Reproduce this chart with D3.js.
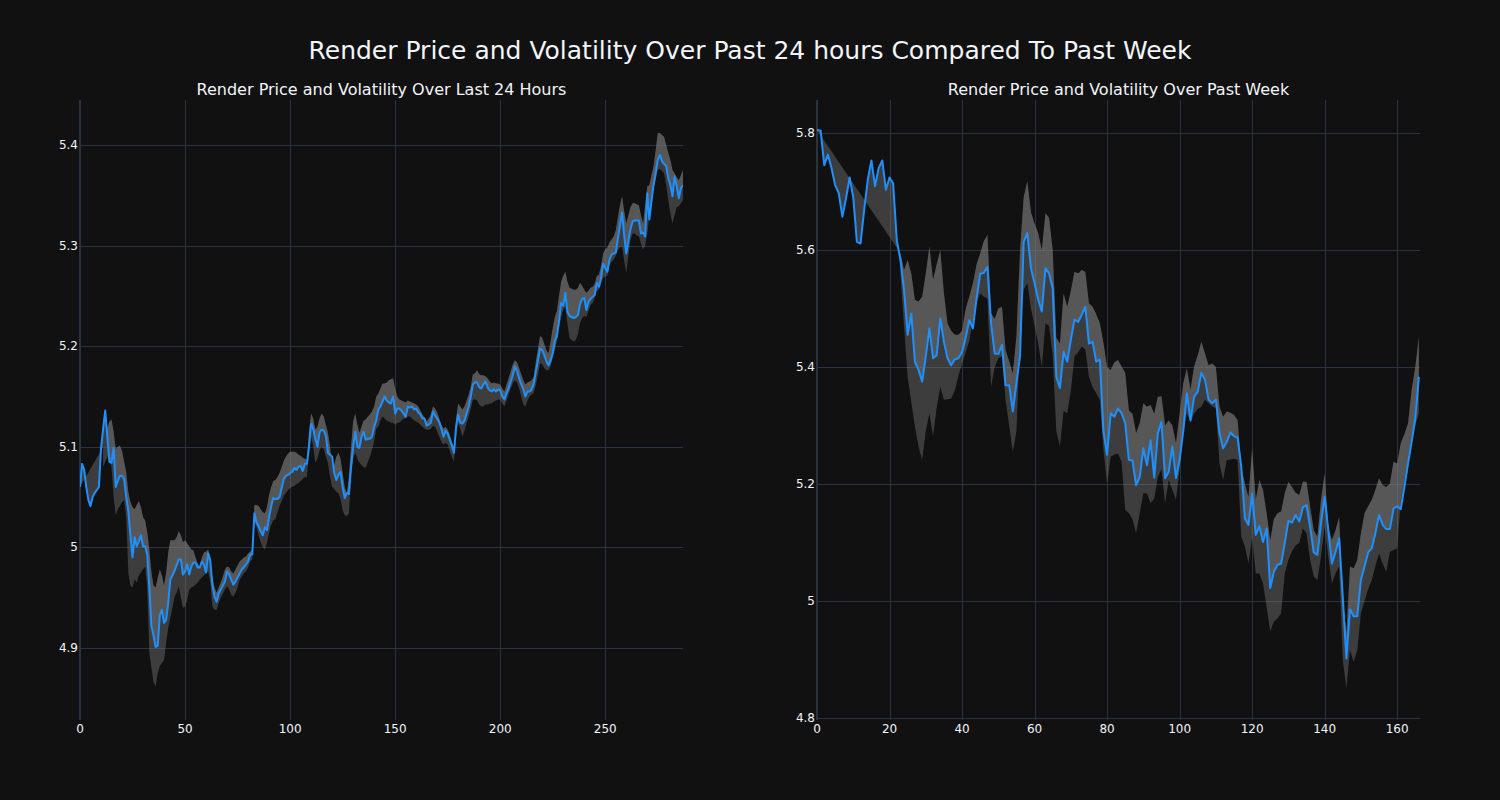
<!DOCTYPE html>
<html>
<head>
<meta charset="utf-8">
<script src="https://cdn.jsdelivr.net/npm/d3@7"></script>
<style>
html,body{margin:0;padding:0;background:#111111;}
svg{display:block;}
</style>
</head>
<body>
<svg id="chart" width="1500" height="800"></svg>
<script>
// ---------------- DATA ----------------
const mainTitle = "Render Price and Volatility Over Past 24 hours Compared To Past Week";
const dayTitle = "Render Price and Volatility Over Last 24 Hours";
const weekTitle = "Render Price and Volatility Over Past Week";

// Last 24 hours (5-minute steps), index 0..287
const dayPrice = [
5.060,5.083,5.077,5.060,5.047,5.041,5.050,5.054,5.057,5.060,
5.098,5.118,5.136,5.110,5.085,5.084,5.099,5.060,5.066,5.071,
5.071,5.068,5.050,5.036,5.012,4.990,5.010,5.001,5.006,5.012,
5.001,5.001,4.993,4.960,4.922,4.912,4.901,4.902,4.933,4.938,
4.925,4.928,4.945,4.968,4.972,4.977,4.982,4.988,4.988,4.973,
4.976,4.983,4.973,4.981,4.985,4.985,4.980,4.980,4.986,4.983,
4.975,4.994,4.987,4.963,4.951,4.946,4.954,4.958,4.962,4.966,
4.976,4.973,4.968,4.963,4.966,4.970,4.974,4.978,4.980,4.983,
4.986,4.993,4.993,5.034,5.025,5.021,5.016,5.012,5.020,5.017,
5.030,5.041,5.049,5.048,5.048,5.050,5.059,5.068,5.071,5.072,
5.074,5.075,5.079,5.077,5.080,5.081,5.076,5.083,5.083,5.100,
5.123,5.118,5.108,5.100,5.114,5.117,5.116,5.111,5.094,5.092,
5.090,5.074,5.067,5.072,5.075,5.060,5.049,5.054,5.053,5.080,
5.100,5.115,5.100,5.099,5.110,5.115,5.107,5.108,5.108,5.110,
5.120,5.126,5.137,5.140,5.145,5.150,5.146,5.144,5.143,5.150,
5.133,5.138,5.138,5.136,5.133,5.130,5.140,5.139,5.140,5.137,
5.138,5.134,5.132,5.128,5.128,5.121,5.122,5.124,5.135,5.131,
5.128,5.124,5.118,5.110,5.116,5.113,5.107,5.101,5.094,5.120,
5.132,5.124,5.123,5.126,5.133,5.140,5.150,5.162,5.164,5.164,
5.159,5.158,5.162,5.165,5.159,5.156,5.155,5.157,5.155,5.157,
5.156,5.150,5.147,5.153,5.158,5.165,5.171,5.180,5.175,5.168,
5.162,5.157,5.150,5.155,5.155,5.157,5.163,5.175,5.186,5.198,
5.196,5.191,5.185,5.181,5.186,5.193,5.205,5.210,5.225,5.243,
5.240,5.253,5.234,5.230,5.229,5.228,5.229,5.231,5.242,5.247,
5.248,5.236,5.244,5.247,5.249,5.251,5.263,5.259,5.268,5.282,
5.278,5.274,5.286,5.291,5.292,5.293,5.307,5.320,5.333,5.310,
5.292,5.305,5.316,5.324,5.325,5.325,5.325,5.312,5.313,5.309,
5.352,5.326,5.344,5.360,5.372,5.385,5.390,5.384,5.381,5.379,
5.367,5.360,5.349,5.369,5.359,5.347,5.357,5.360
];
const dayBandStart = 11;
// upper / lower volatility band from index 11
const dayUpper = [
5.100,5.110,5.118,5.125,5.127,5.115,5.098,5.100,5.101,
5.096,5.085,5.075,5.055,5.045,5.040,5.038,5.042,5.046,5.040,
5.030,5.027,5.015,4.998,4.975,4.962,4.960,4.970,4.978,4.972,
4.962,4.975,4.995,5.007,5.007,5.007,5.010,5.016,5.012,5.005,
5.007,5.004,5.001,4.998,4.997,4.990,4.984,4.981,4.990,4.995,
4.996,4.998,4.990,4.970,4.960,4.955,4.960,4.965,4.971,4.978,
4.981,4.980,4.976,4.974,4.978,4.982,4.986,4.988,4.990,4.991,
4.994,4.996,4.998,5.042,5.042,5.041,5.038,5.035,5.034,5.040,
5.052,5.060,5.066,5.067,5.070,5.074,5.080,5.086,5.090,5.093,
5.095,5.095,5.095,5.094,5.092,5.091,5.089,5.088,5.087,5.115,
5.133,5.128,5.117,5.120,5.128,5.133,5.130,5.122,5.114,5.100,
5.080,5.082,5.090,5.094,5.088,5.074,5.060,5.054,5.070,5.100,
5.125,5.133,5.122,5.114,5.120,5.126,5.127,5.130,5.132,5.135,
5.140,5.150,5.153,5.158,5.163,5.163,5.164,5.166,5.167,5.168,
5.158,5.150,5.147,5.146,5.145,5.144,5.146,5.145,5.144,5.143,
5.142,5.140,5.136,5.132,5.129,5.125,5.128,5.132,5.140,5.138,
5.134,5.128,5.122,5.118,5.120,5.117,5.112,5.105,5.100,5.128,
5.143,5.140,5.137,5.140,5.146,5.152,5.160,5.172,5.173,5.176,
5.172,5.171,5.171,5.170,5.168,5.165,5.163,5.164,5.163,5.163,
5.162,5.158,5.155,5.162,5.168,5.175,5.182,5.186,5.184,5.178,
5.172,5.166,5.162,5.164,5.165,5.166,5.170,5.185,5.198,5.210,
5.208,5.202,5.196,5.193,5.205,5.218,5.229,5.235,5.250,5.264,
5.270,5.274,5.264,5.258,5.257,5.256,5.256,5.258,5.263,5.260,
5.256,5.253,5.255,5.258,5.259,5.262,5.270,5.271,5.280,5.292,
5.296,5.298,5.303,5.306,5.309,5.315,5.328,5.340,5.349,5.334,
5.322,5.330,5.338,5.342,5.342,5.341,5.340,5.330,5.322,5.340,
5.359,5.360,5.370,5.379,5.395,5.412,5.412,5.410,5.408,5.400,
5.392,5.385,5.375,5.372,5.368,5.365,5.370,5.375
];
const dayLower = [
5.080,5.085,5.090,5.088,5.080,5.050,5.032,5.038,5.041,
5.045,5.047,5.030,4.975,4.962,4.960,4.968,4.965,4.972,4.975,
4.978,4.981,4.960,4.895,4.880,4.866,4.862,4.875,4.882,4.885,
4.888,4.905,4.920,4.930,4.940,4.951,4.955,4.961,4.950,4.940,
4.941,4.948,4.958,4.960,4.961,4.963,4.965,4.968,4.970,4.972,
4.975,4.976,4.965,4.941,4.938,4.938,4.945,4.950,4.954,4.958,
4.961,4.958,4.953,4.951,4.955,4.960,4.968,4.971,4.974,4.976,
4.980,4.986,4.988,5.025,5.020,5.012,5.005,5.000,4.998,5.005,
5.015,5.022,5.027,5.028,5.035,5.041,5.046,5.051,5.054,5.057,
5.059,5.060,5.061,5.063,5.064,5.066,5.068,5.070,5.070,5.095,
5.110,5.100,5.084,5.088,5.096,5.100,5.098,5.090,5.084,5.070,
5.060,5.058,5.055,5.054,5.048,5.037,5.032,5.031,5.034,5.070,
5.088,5.094,5.088,5.084,5.082,5.080,5.079,5.085,5.090,5.097,
5.105,5.118,5.120,5.126,5.130,5.128,5.126,5.125,5.124,5.124,
5.122,5.124,5.124,5.126,5.128,5.128,5.130,5.130,5.128,5.126,
5.125,5.124,5.122,5.120,5.118,5.117,5.117,5.118,5.121,5.120,
5.115,5.110,5.105,5.102,5.104,5.102,5.096,5.090,5.085,5.110,
5.124,5.118,5.110,5.116,5.124,5.130,5.138,5.147,5.147,5.146,
5.142,5.140,5.140,5.142,5.142,5.143,5.143,5.145,5.146,5.147,
5.147,5.143,5.140,5.146,5.152,5.158,5.163,5.166,5.164,5.158,
5.150,5.142,5.140,5.146,5.150,5.152,5.154,5.162,5.172,5.183,
5.182,5.178,5.176,5.176,5.180,5.188,5.196,5.205,5.218,5.229,
5.236,5.239,5.222,5.208,5.206,5.205,5.206,5.212,5.223,5.228,
5.230,5.229,5.235,5.241,5.243,5.248,5.255,5.256,5.262,5.268,
5.269,5.270,5.280,5.284,5.286,5.290,5.295,5.298,5.299,5.285,
5.273,5.290,5.305,5.312,5.312,5.310,5.309,5.302,5.296,5.300,
5.312,5.330,5.350,5.359,5.366,5.375,5.376,5.374,5.372,5.360,
5.345,5.332,5.322,5.330,5.338,5.339,5.342,5.345
];

// Past week (hourly steps), index 0..166
const weekPrice = [
5.805,5.804,5.745,5.763,5.740,5.711,5.697,5.657,5.688,5.724,
5.690,5.614,5.611,5.668,5.720,5.753,5.709,5.740,5.753,5.703,
5.724,5.714,5.617,5.583,5.532,5.455,5.491,5.409,5.395,5.375,
5.418,5.466,5.415,5.420,5.483,5.443,5.415,5.403,5.413,5.415,
5.425,5.450,5.480,5.466,5.517,5.559,5.561,5.571,5.475,5.423,
5.422,5.438,5.369,5.369,5.324,5.373,5.418,5.614,5.629,5.569,
5.543,5.515,5.495,5.569,5.560,5.534,5.383,5.364,5.426,5.409,
5.446,5.481,5.477,5.489,5.503,5.440,5.443,5.409,5.413,5.290,
5.250,5.321,5.315,5.329,5.321,5.304,5.241,5.240,5.198,5.212,
5.261,5.232,5.275,5.211,5.287,5.306,5.210,5.221,5.264,5.210,
5.241,5.290,5.355,5.309,5.349,5.358,5.390,5.378,5.344,5.338,
5.344,5.287,5.261,5.272,5.288,5.282,5.279,5.230,5.141,5.130,
5.184,5.113,5.128,5.101,5.124,5.022,5.050,5.062,5.064,5.099,
5.137,5.134,5.147,5.136,5.160,5.164,5.127,5.083,5.079,5.133,
5.178,5.121,5.064,5.084,5.107,5.007,4.902,4.986,4.974,4.974,
5.036,5.059,5.083,5.090,5.116,5.147,5.130,5.123,5.123,5.158,
5.162,5.157,5.195,5.235,5.272,5.312,5.383
];
const weekBandStart = 23;
const weekUpper = [
5.595,5.566,5.583,5.560,5.515,5.512,5.520,
5.560,5.606,5.549,5.575,5.600,5.526,5.475,5.462,5.455,5.455,
5.462,5.500,5.520,5.543,5.575,5.594,5.615,5.626,5.492,5.482,
5.500,5.503,5.429,5.410,5.389,5.452,5.600,5.690,5.718,5.665,
5.645,5.629,5.600,5.663,5.655,5.600,5.450,5.440,5.526,5.503,
5.530,5.563,5.560,5.566,5.563,5.509,5.503,5.490,5.475,5.441,
5.400,5.395,5.408,5.412,5.401,5.390,5.326,5.320,5.287,5.304,
5.338,5.332,5.335,5.320,5.349,5.350,5.300,5.309,5.300,5.270,
5.320,5.372,5.398,5.361,5.401,5.420,5.443,5.423,5.403,5.406,
5.400,5.332,5.315,5.324,5.322,5.318,5.309,5.230,5.201,5.178,
5.261,5.173,5.207,5.190,5.150,5.104,5.140,5.150,5.153,5.184,
5.204,5.195,5.185,5.181,5.204,5.204,5.161,5.121,5.110,5.173,
5.218,5.127,5.104,5.121,5.144,5.002,4.945,5.059,5.056,5.070,
5.116,5.150,5.162,5.173,5.190,5.210,5.198,5.195,5.201,5.238,
5.235,5.270,5.285,5.304,5.361,5.400,5.452
];
const weekLower = [
5.560,5.470,5.383,5.340,5.298,5.264,5.241,
5.290,5.321,5.281,5.330,5.366,5.344,5.345,5.346,5.360,5.385,
5.405,5.425,5.445,5.480,5.510,5.526,5.520,5.517,5.366,5.400,
5.415,5.418,5.344,5.300,5.255,5.290,5.450,5.532,5.543,5.500,
5.470,5.440,5.400,5.475,5.470,5.420,5.290,5.264,5.325,5.321,
5.360,5.418,5.425,5.435,5.430,5.383,5.366,5.355,5.344,5.258,
5.201,5.247,5.250,5.252,5.238,5.156,5.150,5.140,5.116,5.150,
5.184,5.184,5.167,5.175,5.212,5.225,5.167,5.207,5.190,5.173,
5.225,5.287,5.321,5.304,5.321,5.328,5.332,5.344,5.338,5.332,
5.330,5.235,5.207,5.241,5.242,5.243,5.241,5.110,5.093,5.064,
5.110,5.047,5.047,5.030,4.990,4.948,4.965,4.970,4.979,5.047,
5.070,5.085,5.095,5.099,5.124,5.116,5.070,5.042,5.036,5.076,
5.127,5.076,5.030,5.047,5.059,4.899,4.851,4.916,4.896,4.916,
4.979,5.000,5.020,5.036,5.060,5.081,5.064,5.050,5.084,5.087,
5.090,5.173,5.210,5.235,5.281,5.300,5.321
];

// ticks
const dayXTicks = [0, 50, 100, 150, 200, 250];
const dayYTicks = [4.9, 5.0, 5.1, 5.2, 5.3, 5.4];
const weekXTicks = [0, 20, 40, 60, 80, 100, 120, 140, 160];
const weekYTicks = [4.8, 5.0, 5.2, 5.4, 5.6, 5.8];

// axis ranges
const dayXRange = [0, 287];
const dayYRange = [4.8284, 5.4447];
const weekXRange = [0, 166.3];
const weekYRange = [4.7966, 5.8564];

// ---------------- STYLE ----------------
const FONT = "'DejaVu Sans', Verdana, sans-serif";
const TEXT = "#f2f5fa";
const GRID = "#283442";
const LINE = "#1e90ff";
const FILL = "rgba(128,128,128,0.4)";

const svg = d3.select("#chart");
svg.append("rect").attr("width", 1500).attr("height", 800).attr("fill", "#111111");

svg.append("text")
  .attr("x", 750).attr("y", 59)
  .attr("text-anchor", "middle")
  .attr("fill", TEXT)
  .style("font-family", FONT).style("font-size", "25px")
  .text(mainTitle);

function fmt(v) { return d3.format("~g")(+v.toFixed(2)); }

function panel(opts) {
  const {left, right, top, bottom, xRange, yRange, xTicks, yTicks, price, upper, lower, bandStart, title, id} = opts;
  const x = d3.scaleLinear().domain(xRange).range([left, right]);
  const y = d3.scaleLinear().domain(yRange).range([bottom, top]);
  const g = svg.append("g");

  g.append("text")
    .attr("x", (left + right) / 2).attr("y", top - 5)
    .attr("text-anchor", "middle").attr("fill", TEXT)
    .style("font-family", FONT).style("font-size", "16px")
    .text(title);

  // gridlines
  const grid = g.append("g");
  grid.selectAll(".gy").data(yTicks).join("line")
    .attr("x1", left).attr("x2", right)
    .attr("y1", d => Math.round(y(d)) + 0.5).attr("y2", d => Math.round(y(d)) + 0.5)
    .attr("stroke", GRID).attr("stroke-width", 1);
  grid.selectAll(".gx").data(xTicks.filter(d => d !== 0)).join("line")
    .attr("y1", top).attr("y2", bottom)
    .attr("x1", d => Math.round(x(d)) + 0.5).attr("x2", d => Math.round(x(d)) + 0.5)
    .attr("stroke", GRID).attr("stroke-width", 1);
  // zero line
  g.append("line")
    .attr("x1", x(0)).attr("x2", x(0)).attr("y1", top).attr("y2", bottom)
    .attr("stroke", GRID).attr("stroke-width", 2);

  // clip
  const clipId = "clip-" + id;
  svg.append("clipPath").attr("id", clipId).append("rect")
    .attr("x", left).attr("y", top).attr("width", right - left).attr("height", bottom - top);
  const plot = g.append("g").attr("clip-path", `url(#${clipId})`);

  const pricePts = price.map((v, i) => [i, v]);
  const upperPts = upper.map((v, i) => [i + bandStart, v]);
  const lowerPts = lower.map((v, i) => [i + bandStart, v]);
  const path = d3.line().x(d => x(d[0])).y(d => y(d[1]));

  // fill between price and upper (tonexty)
  const poly1 = upperPts.concat(pricePts.slice().reverse());
  plot.append("path").attr("d", path(poly1) + "Z").attr("fill", FILL).attr("stroke", "none");
  // fill between upper and lower (tonexty)
  const poly2 = lowerPts.concat(upperPts.slice().reverse());
  plot.append("path").attr("d", path(poly2) + "Z").attr("fill", FILL).attr("stroke", "none");

  plot.append("path").attr("d", path(pricePts))
    .attr("fill", "none").attr("stroke", LINE).attr("stroke-width", 2)
    .attr("stroke-linejoin", "round");

  // tick labels
  g.selectAll(".xl").data(xTicks).join("text")
    .attr("x", d => x(d)).attr("y", bottom + 13)
    .attr("text-anchor", "middle").attr("fill", TEXT)
    .style("font-family", FONT).style("font-size", "12px")
    .text(d => d);
  g.selectAll(".yl").data(yTicks).join("text")
    .attr("x", left - 2).attr("y", d => y(d) + 4)
    .attr("text-anchor", "end").attr("fill", TEXT)
    .style("font-family", FONT).style("font-size", "12px")
    .text(d => fmt(d));
}

panel({left: 80, right: 683, top: 100, bottom: 720, xRange: dayXRange, yRange: dayYRange,
  xTicks: dayXTicks, yTicks: dayYTicks, price: dayPrice, upper: dayUpper, lower: dayLower,
  bandStart: dayBandStart, title: dayTitle, id: "day"});
panel({left: 817, right: 1420, top: 100, bottom: 720, xRange: weekXRange, yRange: weekYRange,
  xTicks: weekXTicks, yTicks: weekYTicks, price: weekPrice, upper: weekUpper, lower: weekLower,
  bandStart: weekBandStart, title: weekTitle, id: "week"});
</script>
</body>
</html>
